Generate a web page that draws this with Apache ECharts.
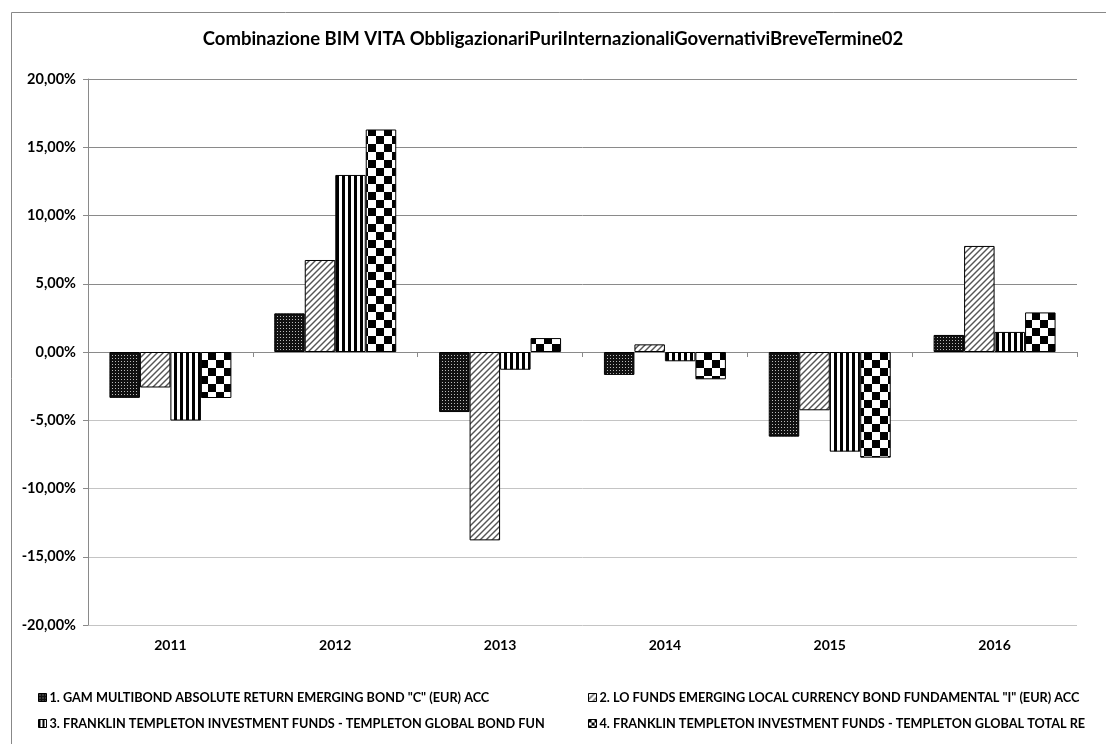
<!DOCTYPE html>
<html><head><meta charset="utf-8">
<script src="https://cdn.jsdelivr.net/npm/echarts@6/dist/echarts.min.js"></script>
<style>html,body{margin:0;padding:0;background:#fff}#c{width:1106px;height:744px}</style>
</head><body><div id="c"></div>
<script>
var categories = ['2011','2012','2013','2014','2015','2016'];
var seriesNames = [
  '1. GAM MULTIBOND ABSOLUTE RETURN EMERGING BOND "C" (EUR) ACC',
  '2. LO FUNDS EMERGING LOCAL CURRENCY BOND FUNDAMENTAL "I" (EUR) ACC',
  '3. FRANKLIN TEMPLETON INVESTMENT FUNDS - TEMPLETON GLOBAL BOND FUN',
  '4. FRANKLIN TEMPLETON INVESTMENT FUNDS - TEMPLETON GLOBAL TOTAL RE'
];
var gam = [-3.36, 2.83, -4.40, -1.68, -6.20, 1.25];
var lofunds = [-2.60, 6.74, -13.80, 0.56, -4.27, 7.77];
var ftBond = [-5.02, 12.97, -1.30, -0.68, -7.30, 1.47];
var ftTotal = [-3.37, 16.30, 1.02, -2.00, -7.74, 2.90];
var yTicks = [-20, -15, -10, -5, 0, 5, 10, 15, 20];

function mk(w, h, draw) {
  var c = document.createElement('canvas'); c.width = w; c.height = h;
  var g = c.getContext('2d'); draw(g); return c;
}
var pDots = mk(3, 3, function (g) { g.fillStyle = '#111'; g.fillRect(0,0,3,3); g.fillStyle = '#bbb'; g.fillRect(1,1,1,1); });
var pDiag = mk(6, 6, function (g) {
  g.fillStyle = '#fff'; g.fillRect(0,0,6,6);
  g.strokeStyle = '#555'; g.lineWidth = 1.4;
  g.beginPath(); g.moveTo(-1,7); g.lineTo(7,-1); g.stroke();
  g.beginPath(); g.moveTo(-4,4); g.lineTo(4,-4); g.stroke();
  g.beginPath(); g.moveTo(2,10); g.lineTo(10,2); g.stroke();
});
var pVert = mk(6, 6, function (g) { g.fillStyle = '#fff'; g.fillRect(0,0,6,6); g.fillStyle = '#000'; g.fillRect(0,0,3,6); });
var pCheck = mk(16, 16, function (g) { g.fillStyle = '#fff'; g.fillRect(0,0,16,16); g.fillStyle = '#000'; g.fillRect(0,0,8,8); g.fillRect(8,8,8,8); });
var pCheckSmall = mk(6, 6, function (g) { g.fillStyle = '#fff'; g.fillRect(0,0,6,6); g.fillStyle = '#000'; g.fillRect(0,0,3,3); g.fillRect(3,3,3,3); });
var pVertSmall = mk(4, 4, function (g) { g.fillStyle = '#fff'; g.fillRect(0,0,4,4); g.fillStyle = '#000'; g.fillRect(0,0,2,4); });
var patterns = [pDots, pDiag, pVert, pCheck];
var legendPatterns = [pDots, pDiag, pVertSmall, pCheckSmall];
var datas = [gam, lofunds, ftBond, ftTotal];

var FONT = 'Lato';
var series = datas.map(function (d, i) {
  return {
    name: seriesNames[i], type: 'bar', data: d, xAxisIndex: 0,
    barGap: '0%', barCategoryGap: '26%',
    itemStyle: { color: { image: patterns[i], repeat: 'repeat' }, borderColor: '#000', borderWidth: 1 },
    emphasis: { disabled: true }
  };
});
var legendPos = [[33, 686], [583, 686], [33, 712], [583, 712]];
var legends = seriesNames.map(function (n, i) {
  return {
    data: [{ name: n, itemStyle: { color: { image: legendPatterns[i], repeat: 'repeat' }, borderColor: '#000', borderWidth: 1 } }],
    left: legendPos[i][0], top: legendPos[i][1], orient: 'horizontal',
    icon: 'rect', itemWidth: 8, itemHeight: 8, itemGap: 4, selectedMode: false,
    textStyle: { fontFamily: FONT, fontWeight: 'bold', fontSize: 12.7, color: '#000', padding: [0,0,0,-2] }
  };
});
var splitColors = yTicks.map(function (v) { return v <= -5 ? '#c4c4c4' : '#8a8a8a'; });

var chart = echarts.init(document.getElementById('c'), null, { renderer: 'canvas' });
chart.setOption({
  animation: false,
  backgroundColor: '#fff',
  title: {
    text: 'Combinazione BIM VITA ObbligazionariPuriInternazionaliGovernativiBreveTermine02',
    left: 'center', top: 25,
    textStyle: { fontFamily: FONT, fontWeight: 'bold', fontSize: 18.5, color: '#000' }
  },
  graphic: [{ type: 'rect', shape: { x: 11.5, y: 12.5, width: 1120, height: 760 }, style: { fill: 'none', stroke: '#888', lineWidth: 1 }, silent: true }],
  legend: legends,
  grid: { left: 88, top: 79, width: 989, height: 546, containLabel: false },
  xAxis: [{
    type: 'category', data: categories, position: 'bottom',
    axisLine: { show: true, onZero: true, lineStyle: { color: '#8a8a8a' } },
    axisTick: { show: true, length: 5, lineStyle: { color: '#8a8a8a' } },
    axisLabel: { show: false }, splitLine: { show: false }
  }, {
    type: 'category', data: categories, position: 'bottom',
    axisLine: { show: false, onZero: false }, axisTick: { show: false },
    axisLabel: { fontFamily: FONT, fontWeight: 'bold', fontSize: 14, color: '#000', margin: 13 }
  }],
  yAxis: {
    type: 'value', min: -20, max: 20, interval: 5,
    axisLine: { show: true, lineStyle: { color: '#8a8a8a' } },
    axisTick: { show: true, length: 5, lineStyle: { color: '#8a8a8a' } },
    splitLine: { show: true, lineStyle: { color: splitColors, width: 1 } },
    axisLabel: {
      fontFamily: FONT, fontWeight: 'bold', fontSize: 14.5, color: '#000', margin: 12,
      formatter: function (v) { return v.toFixed(2).replace('.', ',') + '%'; }
    }
  },
  series: series
});
</script></body></html>
